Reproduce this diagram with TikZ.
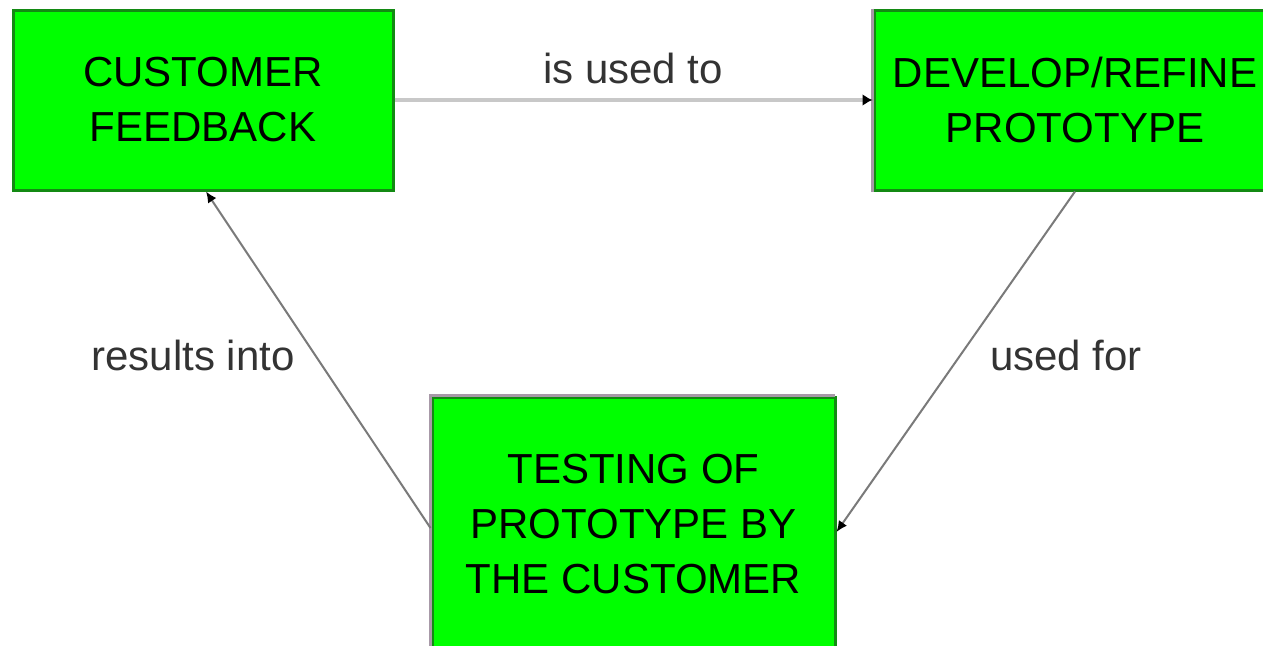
\documentclass[tikz,border=0pt]{standalone}
\usepackage{fontspec}
\setmainfont{Liberation Sans}
\usetikzlibrary{arrows.meta}
\definecolor{boxgreen}{HTML}{00FF00}
\definecolor{boxedge}{HTML}{138A13}
\definecolor{sideedge}{HTML}{A899A8}
\definecolor{lightline}{HTML}{C8C8C8}
\definecolor{midline}{HTML}{7A7A7A}
\definecolor{labelgray}{HTML}{333333}
\tikzset{
  box/.style={rectangle, fill=boxgreen, draw=boxedge, line width=3pt,
    align=center, font=\fontsize{42}{55}\selectfont, text=black, inner sep=0pt},
  sideline/.style={draw=sideedge, line width=3pt},
  conn/.style={line width=2pt, draw=midline,
    arrows={-{Latex[length=11pt,width=10pt,color=black]}}},
  mainconn/.style={line width=4.5pt, draw=lightline,
    arrows={-{Latex[length=10pt,width=12pt,color=black]}}},
  lbl/.style={font=\fontsize{42}{50}\selectfont, text=labelgray, inner sep=0pt}
}
\begin{document}
\begin{tikzpicture}[x=1pt,y=-1pt]
\path[use as bounding box, clip] (0,0) rectangle (1263,645);
\fill[white] (0,0) rectangle (1263,645);
\node[box, minimum width=380pt, minimum height=180pt] (cf) at (203,100) {CUSTOMER\\FEEDBACK};
\node[box, minimum width=402pt, minimum height=180pt] (dev) at (1075,100) {DEVELOP/REFINE\\PROTOTYPE};
\node[box, minimum width=403pt, minimum height=254pt] (test) at (633.5,524) {TESTING OF\\PROTOTYPE BY\\THE CUSTOMER};
\draw[sideline] (dev.north west) -- (dev.south west);
\draw[sideline] (test.south west) -- (test.north west) -- ([xshift=-2pt]test.north east);
\draw[mainconn] (cf.east) -- (dev.west);
\draw[conn] (dev.south) -- ([yshift=-8pt]test.east);
\draw[conn] ([yshift=-4pt]test.west) -- ([xshift=3pt]cf.south);
\node[lbl] (l1) at (633,68) {is used to};
\node[lbl] (l2) at (1066,355) {used for};
\node[lbl] (l3) at (193,355) {results into};
\end{tikzpicture}
\end{document}
